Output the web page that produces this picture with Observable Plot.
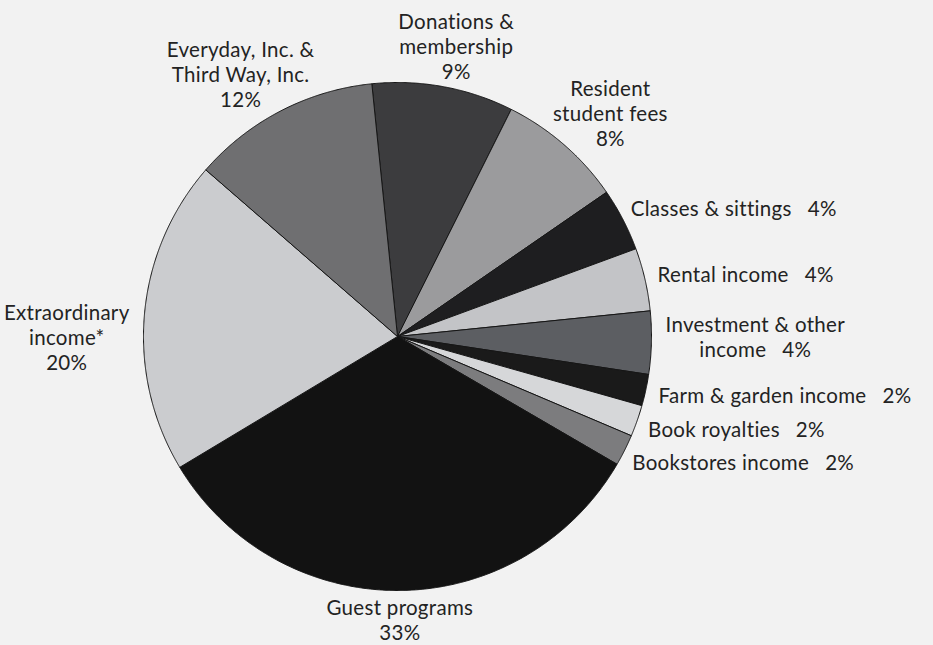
<!DOCTYPE html>
<html>
<head>
<meta charset="utf-8">
<script src="https://cdn.jsdelivr.net/npm/d3@7"></script>
<script src="https://cdn.jsdelivr.net/npm/@observablehq/plot@0.6"></script>
<style>
  html, body { margin: 0; padding: 0; background: #f2f2f2; overflow: hidden; }
  #chart svg { display: block; }
  #chart svg text { letter-spacing: 0.3px; }
</style>
</head>
<body>
<div id="chart"></div>
<script>
// ---- data (clockwise from the top) ----
const categories = [
  "Donations &\nmembership",
  "Resident\nstudent fees",
  "Classes & sittings",
  "Rental income",
  "Investment & other\nincome",
  "Farm & garden income",
  "Book royalties",
  "Bookstores income",
  "Guest programs",
  "Extraordinary\nincome*",
  "Everyday, Inc. &\nThird Way, Inc."
];
const shares = [9, 8, 4, 4, 4, 2, 2, 2, 33, 20, 12];
const percentLabels = ["9%", "8%", "4%", "4%", "4%", "2%", "2%", "2%", "33%", "20%", "12%"];
const shades = ["#3c3c3e", "#9b9b9d", "#1e1e20", "#c3c4c7", "#5c5e62", "#1a1a1a",
                "#d6d7d9", "#7c7c7e", "#121212", "#cbcccf", "#6f6f71"];

// ---- layout ----
const W = 933, H = 645, CX = 397, CY = 336, R = 254;
const FONT = "Lato", FS = 20.5, LH = 25, LS = 0.3;
const GAP_SIDE = 14, SIDE_RING = 25, PAD = 8, GAP_X = 13, GAP_Y = 4;
const deg = Math.PI / 180;
const startAngle = -5.8 * deg;

const arcs = d3.pie().value(d => d).sort(null)
  .startAngle(startAngle).endAngle(startAngle + 2 * Math.PI)(shares);

// wedge outlines in unit-radius coordinates (y pointing down)
const wedgePoints = arcs.flatMap((a, i) => {
  const category = categories[i];
  const n = Math.max(2, Math.ceil((a.endAngle - a.startAngle) / (0.25 * deg)));
  const pts = [{category, x: 0, y: 0}];
  for (let k = 0; k <= n; k++) {
    const t = a.startAngle + (a.endAngle - a.startAngle) * k / n;
    pts.push({category, x: Math.sin(t), y: -Math.cos(t)});
  }
  pts.push({category, x: 0, y: 0});
  return pts;
});

// label placement from the slice geometry
const ctx = document.createElement("canvas").getContext("2d");
ctx.font = `${FS}px "${FONT}"`;
const textW = s => ctx.measureText(s).width + LS * s.length;

const labels = arcs.map((a, i) => {
  const mid = (a.startAngle + a.endAngle) / 2;
  const s = Math.sin(mid), c = Math.cos(mid);
  const side = s > 0.8 ? 1 : s < -0.8 ? -1 : 0;
  const text = side === 1
    ? categories[i] + "\u2002\u2005" + percentLabels[i]
    : categories[i] + "\n" + percentLabels[i];
  const lines = text.split("\n");
  return {i, s, c, side, text, nLines: lines.length, w: d3.max(lines, textW), h: lines.length * LH};
});

// side labels: stacked beside the circle
for (const sd of [1, -1]) {
  const group = labels.filter(d => d.side === sd).sort((a, b) => b.c - a.c);
  let prev = null;
  for (const d of group) {
    let y = -(R + SIDE_RING) * d.c;
    if (Math.abs(y) < d.h / 2) y = 0;               // block straddles the horizontal axis
    if (prev) y = Math.max(y, prev.py + prev.h / 2 + d.h / 2 + PAD);
    d.py = y;
    const xe = Math.sqrt(Math.max(0, R * R - y * y));
    if (d.nLines === 1) { d.anchor = sd > 0 ? "start" : "end"; d.px = sd * (xe + GAP_SIDE); }
    else { d.anchor = "middle"; d.px = sd * (xe + GAP_SIDE + d.w / 2); }
    prev = d;
  }
}
// top / bottom labels: centred blocks pushed out along the slice's middle
for (const d of labels.filter(d => d.side === 0)) {
  d.px = (R + GAP_X + d.w / 2) * d.s;
  d.py = -(R + GAP_Y + d.h / 2) * d.c;
  d.anchor = "middle";
}
labels.forEach(d => { d.x = d.px / R; d.y = d.py / R; });

const textOpts = anchor => ({
  x: "x", y: "y", text: "text",
  textAnchor: anchor, lineAnchor: "middle",
  lineHeight: LH / FS, fontSize: FS, fontFamily: FONT, fill: "#232323"
});

const chart = Plot.plot({
  width: W, height: H, margin: 0,
  x: {domain: [-CX / R, (W - CX) / R], range: [0, W], axis: null},
  y: {domain: [-CY / R, (H - CY) / R], range: [0, H], axis: null},
  color: {domain: categories, range: shades},
  style: {background: "transparent", fontFamily: FONT, fontSize: FS + "px", color: "#232323"},
  marks: [
    Plot.line(wedgePoints, {
      x: "x", y: "y", z: "category", fill: "category",
      stroke: "#161616", strokeWidth: 1, strokeLinejoin: "round", curve: "linear"
    }),
    Plot.text(labels.filter(d => d.anchor === "middle"), textOpts("middle")),
    Plot.text(labels.filter(d => d.anchor === "start"), textOpts("start")),
    Plot.text(labels.filter(d => d.anchor === "end"), textOpts("end"))
  ]
});
document.getElementById("chart").append(chart);
</script>
</body>
</html>
